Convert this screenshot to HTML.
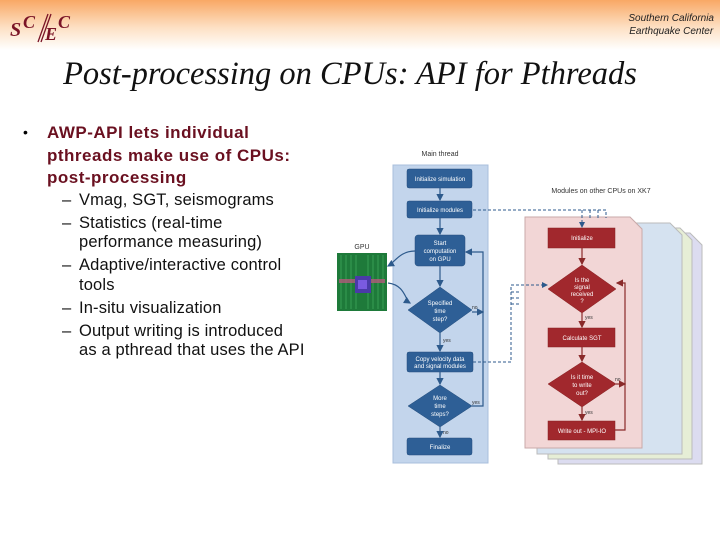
<!DOCTYPE html>
<html><head><meta charset="utf-8"><style>
body{margin:0;width:720px;height:540px;overflow:hidden;background:#fff;position:relative;font-family:"Liberation Sans",sans-serif}
.hdr{position:absolute;left:0;top:0;width:720px;height:50px;background:linear-gradient(#f9a865,#fde0c4 55%,#fff)}
.t{position:absolute;white-space:nowrap}
.s{position:absolute;left:79px;font-size:16.5px;letter-spacing:0.15px;color:#111;white-space:nowrap}
.d{position:absolute;left:62px;font-size:16.5px;color:#111}
</style></head><body>
<div class="hdr"></div>
<svg style="position:absolute;left:8px;top:6px" width="70" height="40">
<g font-family="Liberation Serif,serif" font-style="italic" font-weight="bold" fill="#7a1426">
<text x="2" y="30" font-size="20">S</text><text x="15" y="22" font-size="18">C</text>
<text x="37" y="34" font-size="18">E</text><text x="50" y="22" font-size="18">C</text></g>
<path d="M30,36L40,8M33,36L43,8" stroke="#7a1426" stroke-width="1.3"/>
</svg>
<div class="t" style="right:6px;top:12px;font-style:italic;font-size:10px;line-height:13px;text-align:center;color:#222">Southern California<br>Earthquake Center</div>
<div class="t" style="left:0;width:700px;text-align:center;top:56px;font-family:'Liberation Serif',serif;font-style:italic;font-size:32.5px;color:#111">Post-processing on CPUs: API for Pthreads</div>
<div class="t" style="left:23px;top:124px;font-size:14px">•</div>
<div class="t" style="left:47px;top:122px;font-weight:bold;font-size:17px;letter-spacing:0.5px;line-height:22.5px;color:#6a1020">AWP-API lets individual<br>pthreads make use of CPUs:<br>post-processing</div>
<div class="d" style="top:191px">–</div><div class="s" style="top:191px">Vmag, SGT, seismograms</div>
<div class="d" style="top:214px">–</div><div class="s" style="top:214px">Statistics (real-time</div>
<div class="s" style="top:233px">performance measuring)</div>
<div class="d" style="top:256px">–</div><div class="s" style="top:256px">Adaptive/interactive control</div>
<div class="s" style="top:276px">tools</div>
<div class="d" style="top:299px">–</div><div class="s" style="top:299px">In-situ visualization</div>
<div class="d" style="top:322px">–</div><div class="s" style="top:322px">Output writing is introduced</div>
<div class="s" style="top:341px">as a pthread that uses the API</div>
<svg style="position:absolute;left:0;top:0" width="720" height="540" font-family="Liberation Sans,sans-serif">
<defs><marker id="a" markerWidth="6" markerHeight="6" refX="5" refY="3" orient="auto"><path d="M0,0L6,3L0,6z" fill="#2d5a8c"/></marker>
<marker id="b" markerWidth="6" markerHeight="6" refX="5" refY="3" orient="auto"><path d="M0,0L6,3L0,6z" fill="#8a2a2a"/></marker></defs>
<text x="440" y="156" font-size="7" text-anchor="middle" fill="#333">Main thread</text>
<text x="601" y="193" font-size="7" text-anchor="middle" fill="#333">Modules on other CPUs on XK7</text>
<text x="362" y="249" font-size="7" text-anchor="middle" fill="#333">GPU</text>
<rect x="393" y="165" width="95" height="298" fill="#c3d5ec" stroke="#a8bfdc"/>
<path d="M558,233 L690,233 L702,245 L702,464 L558,464Z" fill="#dcdcf0" stroke="#bbb"/>
<path d="M548,228 L680,228 L692,240 L692,459 L548,459Z" fill="#e6eed6" stroke="#bbb"/>
<path d="M537,223 L670,223 L682,235 L682,454 L537,454Z" fill="#d5e2f0" stroke="#bbb"/>
<path d="M525,217 L630,217 L642,229 L642,448 L525,448Z" fill="#f2d6d6" stroke="#c9a9a9"/>
<g fill="#2e5f96" stroke="#244d7c" stroke-width="0.5">
<rect x="407" y="169" width="65" height="19" rx="2"/>
<rect x="407" y="201" width="65" height="17" rx="2"/>
<rect x="415" y="235" width="50" height="31" rx="3"/>
<path d="M408,310 L440,287 L472,310 L440,333Z"/>
<rect x="407" y="352" width="66" height="20" rx="2"/>
<path d="M408,406 L440,385 L472,406 L440,427Z"/>
<rect x="407" y="438" width="65" height="17" rx="2"/>
</g>
<g fill="#a1282d" stroke="#862020" stroke-width="0.5">
<rect x="548" y="228" width="67" height="20"/>
<path d="M548,289 L582,265 L616,289 L582,313Z"/>
<rect x="548" y="328" width="67" height="19"/>
<path d="M548,384 L582,362 L616,384 L582,407Z"/>
<rect x="548" y="421" width="67" height="19"/>
</g>
<g fill="#fff" font-size="6" text-anchor="middle">
<text x="440" y="181">Initialize simulation</text>
<text x="440" y="212">Initialize modules</text>
<text x="440" y="245">Start</text><text x="440" y="253">computation</text><text x="440" y="261">on GPU</text>
<text x="440" y="305">Specified</text><text x="440" y="313">time</text><text x="440" y="321">step?</text>
<text x="440" y="361">Copy velocity data</text><text x="440" y="368">and signal modules</text>
<text x="440" y="400">More</text><text x="440" y="408">time</text><text x="440" y="416">steps?</text>
<text x="440" y="449">Finalize</text>
<text x="582" y="240">Initialize</text>
<text x="582" y="282">Is the</text><text x="582" y="289">signal</text><text x="582" y="296">received</text><text x="582" y="303">?</text>
<text x="582" y="340">Calculate SGT</text>
<text x="582" y="379">Is it time</text><text x="582" y="387">to write</text><text x="582" y="395">out?</text>
<text x="582" y="433">Write out - MPI-IO</text>
</g>
<g fill="#333" font-size="5">
<text x="472" y="309">no</text><text x="443" y="342">yes</text><text x="472" y="404">yes</text><text x="443" y="434">no</text>
<text x="585" y="319">yes</text><text x="615" y="381">no</text><text x="585" y="414">yes</text>
</g>
<g stroke="#2d5a8c" stroke-width="1.2" fill="none" marker-end="url(#a)">
<path d="M440,188V200"/><path d="M440,218V234"/><path d="M440,266V286"/><path d="M440,333V351"/>
<path d="M440,372V384"/><path d="M440,427V437"/>
<path d="M472,406H483V252H466"/><path d="M472,312H483"/>
<path d="M415,251C400,251 395,262 388,266"/><path d="M388,283C405,285 405,300 410,303"/>
</g>
<g stroke="#2d5a8c" stroke-width="1" fill="none" stroke-dasharray="3,2">
<path d="M473,210H606V218"/><path d="M582,210V227" marker-end="url(#a)"/><path d="M590,210V218"/><path d="M598,210V218"/>
<path d="M473,362H511V286" /><path d="M511,285H547" marker-end="url(#a)"/><path d="M511,292H520"/><path d="M511,298H520"/><path d="M511,304H520"/>
</g>
<g stroke="#8a2a2a" stroke-width="1.2" fill="none" marker-end="url(#b)">
<path d="M582,248V264"/><path d="M582,313V327"/><path d="M582,347V361"/><path d="M582,407V420"/>
<path d="M615,430H625V283H617"/><path d="M616,384H625"/>
</g>
<rect x="337" y="253" width="50" height="58" fill="#1e7a3a"/>
<g stroke="#5bd27a" stroke-width="0.6" opacity="0.7">
<path d="M341,255V309M346,255V309M351,255V309M356,255V309M368,255V309M373,255V309M378,255V309M383,255V309"/>
</g>
<rect x="339" y="279" width="46" height="4" fill="#b05a7a" opacity="0.8"/>
<rect x="355" y="276" width="16" height="17" fill="#4a3aa8"/>
<rect x="358" y="280" width="9" height="9" fill="#7a5ae0"/>
</svg>
</body></html>
